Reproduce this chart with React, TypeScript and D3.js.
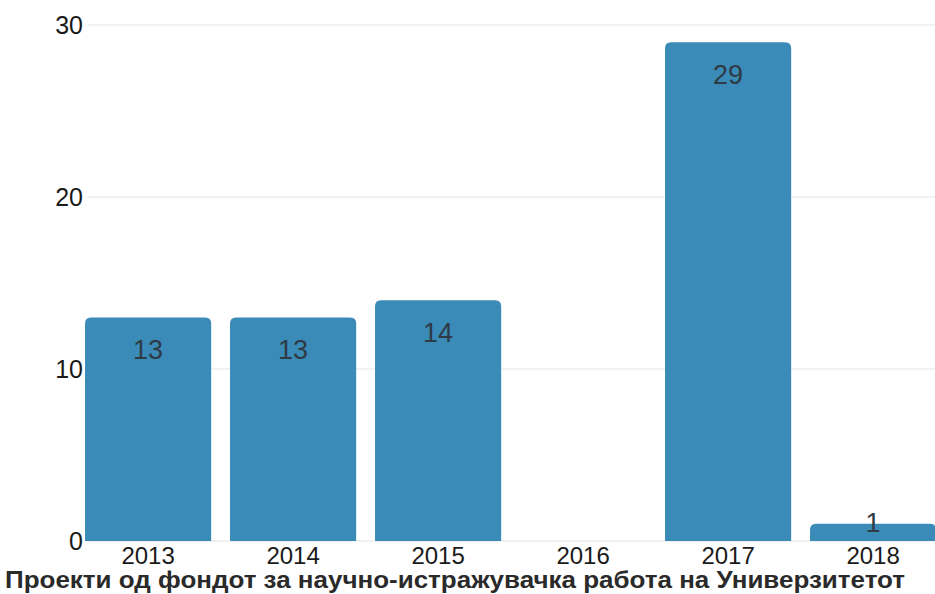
import React from "react";
import * as d3 from "d3";

const categories = ["2013", "2014", "2015", "2016", "2017", "2018"];
const values = [13, 13, 14, 0, 29, 1];
const yTicks = [0, 10, 20, 30];
const title = "Проекти од фондот за научно-истражувачка работа на Универзитетот";

const W = 935;
const H = 594;

export default function App() {
  const x = d3
    .scaleBand<string>()
    .domain(categories)
    .range([75.6, 945.6])
    .paddingInner(0.13)
    .paddingOuter(0.065);
  const y = d3.scaleLinear().domain([0, 30]).range([541, 25]);
  const bw = x.bandwidth();
  const r = 6;
  const font = "'Liberation Sans', Arial, sans-serif";

  const barPath = (x0: number, y0: number, w: number, yb: number) => {
    const h = yb - y0;
    const rr = Math.min(r, h, w / 2);
    return `M${x0},${yb}V${y0 + rr}Q${x0},${y0} ${x0 + rr},${y0}H${x0 + w - rr}Q${x0 + w},${y0} ${x0 + w},${y0 + rr}V${yb}Z`;
  };

  return (
    <svg
      width={W}
      height={H}
      style={{ position: "absolute", left: 0, top: 0, background: "#fff" }}
    >
      {yTicks.map((t) => (
        <g key={t}>
          <line x1={88} x2={W} y1={y(t)} y2={y(t)} stroke="#ededed" strokeWidth={1.5} />
          <text
            x={83}
            y={y(t)}
            dy="0.36em"
            textAnchor="end"
            fontFamily={font}
            fontSize={25}
            fill="#1a1a1a"
          >
            {t}
          </text>
        </g>
      ))}
      {categories.map((c, i) => {
        const v = values[i];
        const x0 = x(c)!;
        const yt = y(v);
        const h = y(0) - yt;
        const labelY = h < 40 ? y(0) - 9 : yt + 42;
        return (
          <g key={c}>
            {v > 0 && <path d={barPath(x0, yt, bw, y(0))} fill="#3b8bb9" />}
            {v > 0 && (
              <text
                x={x0 + bw / 2}
                y={labelY}
                textAnchor="middle"
                fontFamily={font}
                fontSize={27}
                fill="#2e3a44"
              >
                {v}
              </text>
            )}
            <text
              x={x0 + bw / 2}
              y={564}
              textAnchor="middle"
              fontFamily={font}
              fontSize={24}
              fill="#1a1a1a"
            >
              {c}
            </text>
          </g>
        );
      })}
      <text
        x={5}
        y={588}
        fontFamily={font}
        fontWeight="bold"
        fontSize={23}
        fill="#2a2a2a"
        textLength={900}
        lengthAdjust="spacingAndGlyphs"
      >
        {title}
      </text>
    </svg>
  );
}
